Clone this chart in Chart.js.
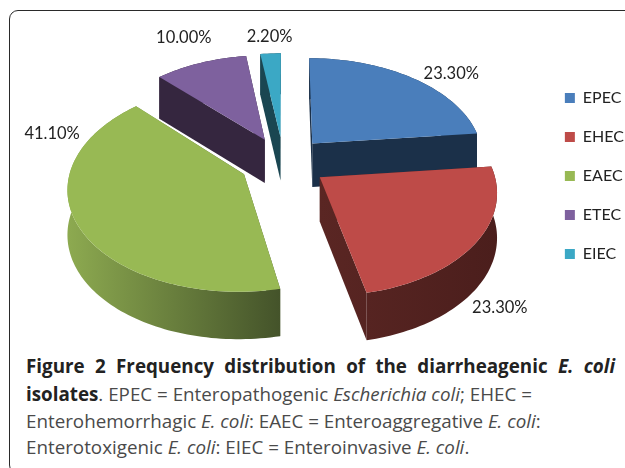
<!DOCTYPE html>
<html>
<head>
<meta charset="utf-8">
<script src="https://cdn.jsdelivr.net/npm/chart.js@4"></script>
<style>
    html, body { margin: 0; padding: 0; background: #fff; overflow: hidden; width: 625px; height: 468px; }
    #panel { position: absolute; left: 9px; top: 10px; width: 700px; height: 462px; border: 1.5px solid #2a2a2a; border-radius: 9px; }
    #chartBox { position: absolute; left: 0; top: 0; width: 634px; height: 352px; }
    .line { position: absolute; left: 26px; white-space: nowrap; font-family: "Open Sans", sans-serif; font-size: 18.8px; line-height: 26px; color: #4a4a4a; }
    #line1 { top: 353px; width: 589px; text-align: justify; text-align-last: justify; white-space: normal; font-weight: 700; color: #222; }
    #line2 { top: 381px; }
    #line3 { top: 408px; }
    #line4 { top: 434px; }
    b { color: #222; }
</style>
</head>
<body>
<div id="panel"></div>
<div id="chartBox"><canvas id="pieChart"></canvas></div>
<div class="line" id="line1">Figure 2 Frequency distribution of the diarrheagenic <i>E. coli</i></div>
<div class="line" id="line2"><b>isolates</b>. EPEC = Enteropathogenic <i>Escherichia coli</i>; EHEC =</div>
<div class="line" id="line3">Enterohemorrhagic <i>E. coli</i>: EAEC = Enteroaggregative <i>E. coli</i>:</div>
<div class="line" id="line4">Enterotoxigenic <i>E. coli</i>: EIEC = Enteroinvasive <i>E. coli</i>.</div>

<script>
// Data
const categories = ["EPEC", "EHEC", "EAEC", "ETEC", "EIEC"];
const frequency = [23.3, 23.3, 41.1, 10.0, 2.2];

// Colours
const topColors = ["#4A7EBB", "#BE4B48", "#98B954", "#7E619E", "#3BA8C5"];
const wallLeft = ["#1B3049", "#5A2623", "#8DAA50", "#35263F", "#1A4651"];
const wallRight = ["#1B3049", "#4B1E1C", "#44532A", "#35263F", "#1A4651"];

// Perspective settings for the pie
const tilt = 0.581;
const perspective = 0.000714;
const depth = 44;
const explode = 44;
const pieRadius = 172;
const pieCenterX = 283.5;
const pieShiftY = -14;
const backToFront = [4, 3, 0, 2, 1];

// Label offsets from the tip of each slice
const labelDx = [139, 180, -192, -81, -11];
const labelDy = [-70, 130, -41, -102, -101];

function project(cx, cy, X, Y) {
    const w = 1 - perspective * Y;
    return { x: cx + X / w, y: cy + tilt * Y / w, drop: depth / Math.sqrt(w) };
}

function slicePoints(arc) {
    const cx = pieCenterX;
    const cy = arc.y + pieShiftY;
    const mid = (arc.startAngle + arc.endAngle) / 2;
    const ox = explode * Math.cos(mid);
    const oy = explode * Math.sin(mid);
    const pts = [project(cx, cy, ox, oy)];
    const steps = Math.max(4, Math.ceil((arc.endAngle - arc.startAngle) * 40));
    for (let i = 0; i <= steps; i++) {
        const t = arc.startAngle + (arc.endAngle - arc.startAngle) * i / steps;
        pts.push(project(cx, cy, ox + arc.outerRadius * Math.cos(t), oy + arc.outerRadius * Math.sin(t)));
    }
    return pts;
}

function fillWall(ctx, pts) {
    ctx.beginPath();
    pts.forEach((p, j) => (j ? ctx.lineTo(p.x, p.y) : ctx.moveTo(p.x, p.y)));
    for (let j = pts.length - 1; j >= 0; j--) {
        ctx.lineTo(pts[j].x, pts[j].y + pts[j].drop);
    }
    ctx.closePath();
    ctx.fill();
}

const pie3d = {
    id: "pie3d",
    beforeDatasetsDraw(chart) {
        const ctx = chart.ctx;
        const arcs = chart.getDatasetMeta(0).data;
        backToFront.forEach(i => {
            const pts = slicePoints(arcs[i]);
            const tip = pts[0];
            const rim = pts.slice(1);

            const xs = pts.map(p => p.x);
            const wall = ctx.createLinearGradient(Math.min(...xs), 0, Math.max(...xs), 0);
            wall.addColorStop(0, wallLeft[i]);
            wall.addColorStop(1, wallRight[i]);
            ctx.fillStyle = wall;

            // side walls: the two cut edges, then the rim
            fillWall(ctx, [tip, rim[0]]);
            fillWall(ctx, [rim[rim.length - 1], tip]);
            fillWall(ctx, rim);

            // top face
            ctx.fillStyle = topColors[i];
            ctx.beginPath();
            pts.forEach((p, j) => (j ? ctx.lineTo(p.x, p.y) : ctx.moveTo(p.x, p.y)));
            ctx.closePath();
            ctx.fill();
        });
        return false; // the flat arcs are replaced by the slices above
    },
    afterDraw(chart) {
        const ctx = chart.ctx;
        const arcs = chart.getDatasetMeta(0).data;
        ctx.save();
        ctx.font = '16.5px Lato';
        ctx.fillStyle = "#222";
        ctx.textAlign = "center";
        ctx.textBaseline = "middle";
        arcs.forEach((arc, i) => {
            const tip = slicePoints(arc)[0];
            ctx.fillText(frequency[i].toFixed(2) + "%", tip.x + labelDx[i], tip.y + labelDy[i]);
        });
        ctx.restore();
    }
};

new Chart(document.getElementById("pieChart"), {
    type: "pie",
    data: {
        labels: categories,
        datasets: [{
            data: frequency,
            backgroundColor: topColors,
            borderWidth: 0,
            radius: pieRadius
        }]
    },
    options: {
        responsive: true,
        maintainAspectRatio: false,
        animation: false,
        layout: { padding: { left: 0, right: 0, top: 0, bottom: 0 } },
        plugins: {
            tooltip: { enabled: false },
            legend: {
                position: "right",
                labels: {
                    boxWidth: 10,
                    boxHeight: 10,
                    padding: 23,
                    color: "#222",
                    font: { family: "Lato", size: 16 }
                }
            }
        }
    },
    plugins: [pie3d]
});
</script>
</body>
</html>
